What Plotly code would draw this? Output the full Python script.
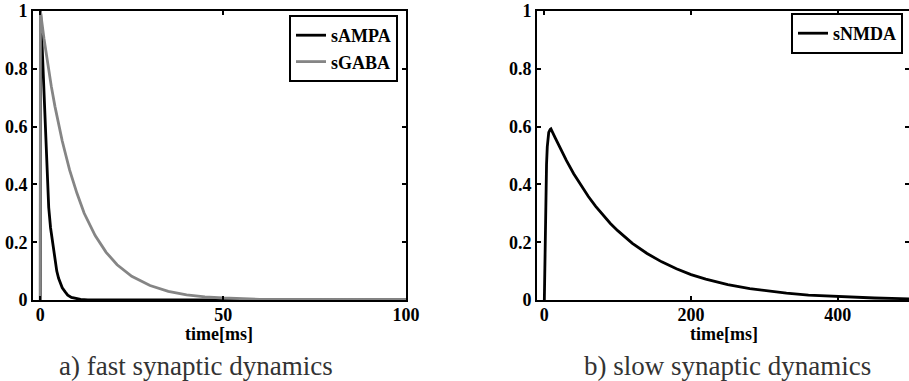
import plotly.graph_objects as go

# ---- data ----
t_ampa = [0, 0.05, 0.3, 0.6, 0.9, 1.2, 1.5, 1.9, 2.3, 2.8, 3.4, 4.0, 4.5, 5.0, 5.5, 6.0, 6.8, 7.5, 8.5, 9.6, 11, 13, 15, 100]
s_ampa = [0, 1.0, 0.94, 0.85, 0.74, 0.62, 0.52, 0.40, 0.32, 0.25, 0.20, 0.14, 0.10, 0.075, 0.055, 0.042, 0.028, 0.017, 0.009, 0.005, 0.002, 0.0005, 0, 0]

t_gaba = [0, 0.02, 1, 2, 3, 4, 5, 6, 7, 8, 10, 12, 15, 18, 21, 25, 30, 35, 40, 45, 50, 60, 70, 80, 90, 100]
s_gaba = [0, 1.0, 0.905, 0.82, 0.74, 0.67, 0.607, 0.55, 0.50, 0.45, 0.37, 0.30, 0.223, 0.165, 0.122, 0.082, 0.05, 0.03, 0.018, 0.011, 0.007, 0.0025, 0.001, 0.0003, 0.0001, 0]

t_nmda = [0, 0.5, 1, 2, 3, 4, 5, 6, 8, 9, 15, 20, 30, 40, 50, 60, 70, 80, 90, 100, 120, 140, 160, 180, 200, 220, 250, 280, 300, 330, 360, 400, 450, 500]
s_nmda = [0, 0.10, 0.20, 0.38, 0.47, 0.53, 0.56, 0.58, 0.59, 0.592, 0.56, 0.533, 0.483, 0.437, 0.396, 0.358, 0.324, 0.293, 0.265, 0.24, 0.196, 0.161, 0.132, 0.108, 0.088, 0.072, 0.053, 0.039, 0.032, 0.024, 0.017, 0.012, 0.007, 0.004]

left_xticks = [0, 50, 100]
right_xticks = [0, 200, 400]
yticks = [0, 0.2, 0.4, 0.6, 0.8, 1]

W, H = 909, 381
FONT = "Liberation Serif, Times New Roman, serif"

def px(x):
    return x / W

def py(y):
    return (H - y) / H

fig = go.Figure()
fig.add_trace(go.Scatter(x=t_ampa, y=s_ampa, mode="lines", name="sAMPA",
                         line=dict(color="black", width=2.8), xaxis="x", yaxis="y", legend="legend"))
fig.add_trace(go.Scatter(x=t_gaba, y=s_gaba, mode="lines", name="sGABA",
                         line=dict(color="#858585", width=2.8), xaxis="x", yaxis="y", legend="legend"))
fig.add_trace(go.Scatter(x=t_nmda, y=s_nmda, mode="lines", name="sNMDA",
                         line=dict(color="black", width=2.8), xaxis="x2", yaxis="y2", legend="legend2"))

tickfont = dict(family=FONT, size=18, color="black", weight="bold")
legfont = dict(family=FONT, size=18, color="black", weight="bold")
axis_common = dict(showline=True, linecolor="black", linewidth=2, mirror="allticks",
                   ticks="inside", ticklen=4, tickwidth=2, tickcolor="black",
                   showgrid=False, zeroline=False, tickfont=tickfont, automargin=False)

fig.update_layout(
    width=W, height=H, margin=dict(l=0, r=0, t=0, b=0, autoexpand=False),
    paper_bgcolor="white", plot_bgcolor="white",
    xaxis=dict(domain=[px(33), px(406)], range=[-2, 100], tickvals=left_xticks,
               anchor="y", ticklabelstandoff=-3, **axis_common),
    yaxis=dict(domain=[py(300), py(11)], range=[0, 1], tickvals=yticks, anchor="x", **axis_common),
    xaxis2=dict(domain=[px(537), 1.0], range=[-10, 497], tickvals=right_xticks,
                anchor="y2", ticklabelstandoff=-3, **axis_common),
    yaxis2=dict(domain=[py(300), py(11)], range=[0, 1], tickvals=yticks, anchor="x2", **axis_common),
    legend=dict(x=px(398), xanchor="right", y=py(15), yanchor="top",
                bordercolor="black", borderwidth=2, bgcolor="white",
                font=legfont, tracegroupgap=0, itemwidth=30),
    legend2=dict(x=px(903), xanchor="right", y=py(13), yanchor="top",
                 bordercolor="black", borderwidth=2, bgcolor="white",
                 font=legfont, itemwidth=30),
    showlegend=True,
    annotations=[
        dict(text="time[ms]", x=px(219), y=py(334), xref="paper", yref="paper",
             xanchor="center", yanchor="middle", showarrow=False, font=tickfont),
        dict(text="time[ms]", x=px(724), y=py(334), xref="paper", yref="paper",
             xanchor="center", yanchor="middle", showarrow=False, font=tickfont),
        dict(text="a) fast synaptic dynamics", x=px(196), y=py(366), xref="paper", yref="paper",
             xanchor="center", yanchor="middle", showarrow=False,
             font=dict(family=FONT, size=27, color="#333333")),
        dict(text="b) slow synaptic dynamics", x=px(727), y=py(366), xref="paper", yref="paper",
             xanchor="center", yanchor="middle", showarrow=False,
             font=dict(family=FONT, size=27, color="#333333")),
    ],
)

fig.write_html("out.html")
